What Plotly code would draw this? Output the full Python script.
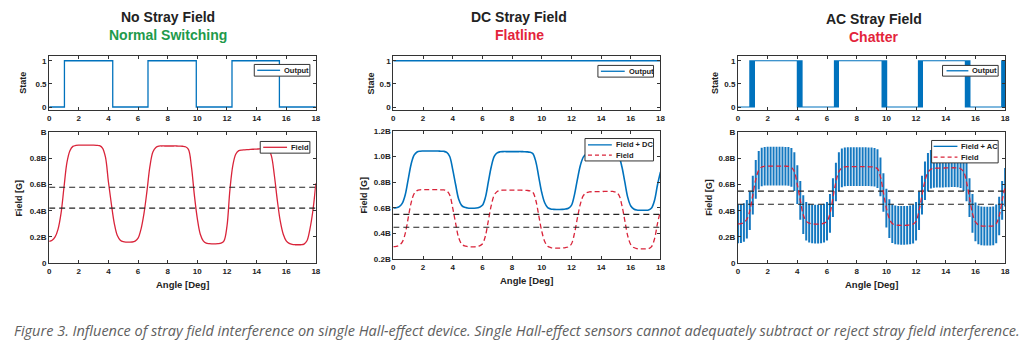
import numpy as np
import plotly.graph_objects as go

# ---------------- data ----------------
angle = np.round(np.arange(0, 91) * 0.2, 1)  # 0 .. 18 deg, 0.2 deg step

# Panel 1: "No Stray Field" field curve
field_nostray = [
    0.165, 0.175, 0.200, 0.260, 0.380, 0.580, 0.770, 0.860, 0.893, 0.900,
    0.902, 0.902, 0.902, 0.902, 0.902, 0.902, 0.901, 0.898, 0.880, 0.810,
    0.620, 0.450, 0.300, 0.210, 0.175, 0.163, 0.160, 0.160, 0.161, 0.168,
    0.190, 0.260, 0.380, 0.550, 0.740, 0.850, 0.885, 0.895, 0.896, 0.896,
    0.896, 0.896, 0.896, 0.896, 0.895, 0.894, 0.890, 0.870, 0.740, 0.520,
    0.340, 0.220, 0.170, 0.152, 0.148, 0.147, 0.147, 0.148, 0.152, 0.170,
    0.280, 0.560, 0.750, 0.835, 0.860, 0.865, 0.866, 0.868, 0.870, 0.871,
    0.872, 0.874, 0.875, 0.876, 0.870, 0.820, 0.670, 0.480, 0.320, 0.220,
    0.170, 0.150, 0.142, 0.140, 0.140, 0.140, 0.145, 0.170, 0.260, 0.400,
    0.610,
]

# Panels 2 and 3: underlying "Field" curve
field_base = [
    0.300, 0.302, 0.310, 0.335, 0.400, 0.520, 0.640, 0.710, 0.735, 0.741,
    0.742, 0.742, 0.742, 0.742, 0.742, 0.742, 0.741, 0.740, 0.732, 0.700,
    0.600, 0.480, 0.370, 0.320, 0.305, 0.300, 0.298, 0.298, 0.299, 0.305,
    0.320, 0.380, 0.500, 0.620, 0.700, 0.728, 0.736, 0.738, 0.738, 0.738,
    0.738, 0.738, 0.738, 0.738, 0.737, 0.736, 0.733, 0.722, 0.660, 0.540,
    0.420, 0.340, 0.302, 0.292, 0.289, 0.288, 0.288, 0.289, 0.292, 0.298,
    0.320, 0.400, 0.520, 0.630, 0.695, 0.718, 0.724, 0.726, 0.727, 0.727,
    0.728, 0.728, 0.729, 0.729, 0.728, 0.722, 0.700, 0.620, 0.500, 0.380,
    0.315, 0.292, 0.284, 0.282, 0.282, 0.282, 0.284, 0.300, 0.360, 0.480,
    0.580,
]

dc_offset = 0.30        # Field + DC = Field + 0.30B
ac_amplitude = 0.148    # peak of the AC ripple

thresholds_p1 = [0.42, 0.58]
thresholds_p23 = [0.45, 0.55]

state_p1_x = [0, 1.03, 4.29, 6.67, 9.93, 12.34, 15.54, 18]
state_p1_y = [0, 1, 0, 1, 0, 1, 0, 0]
state_p2_x = [0, 18]
state_p2_y = [1, 1]
chatter_blocks = [(0.80, 1.11), (4.00, 4.32), (6.50, 6.77), (9.71, 10.02),
                  (12.16, 12.43), (15.32, 15.63), (17.77, 18.0)]
chatter_toggles = 7

x_ticks = list(range(0, 19, 2))
state_ticks = [0, 0.5, 1]
state_ticktext = ["0", "0.5", "1"]
field_ticks_p13 = [0, 0.2, 0.4, 0.6, 0.8, 1.0]
field_ticktext_p13 = ["0", "0.2B", "0.4B", "0.6B", "0.8B", "B"]
field_ticks_p2 = [0.2, 0.4, 0.6, 0.8, 1.0, 1.2]
field_ticktext_p2 = ["0.2B", "0.4B", "0.6B", "0.8B", "1.0B", "1.2B"]

# ---------------- derived series ----------------
field_dc = [f + dc_offset for f in field_base]

# AC ripple: one peak-to-peak swing around the field at every sample
ac_x, ac_y = [], []
for a, f in zip(angle, field_base):
    ac_x += [a, a, None]
    ac_y += [f - ac_amplitude, f + ac_amplitude, None]

state_p3_x, state_p3_y = [0.0], [0]
s = 0
for (b0, b1) in chatter_blocks:
    for k in range(chatter_toggles):
        s = 1 - s
        state_p3_x.append(b0 + (b1 - b0) * k / (chatter_toggles - 1))
        state_p3_y.append(s)
state_p3_x.append(18.0)
state_p3_y.append(s)

# ---------------- styling ----------------
FONT = "Liberation Sans, Arial, sans-serif"
BLUE = "#0072BD"
RED = "#D9243A"
W, H = 1027, 358


def px_x(p):
    return p / W


def px_y(p):
    return 1 - p / H


def axis(dom, rng, anchor, tv, tt=None):
    d = dict(domain=dom, range=rng, anchor=anchor, showline=True,
             linecolor="#333", linewidth=1, mirror="ticks", ticks="inside",
             ticklen=3, tickwidth=1, tickcolor="#333", showgrid=False,
             zeroline=False, fixedrange=True, tickvals=tv,
             tickfont=dict(family=FONT, size=8, color="#222", weight="bold"))
    if tt is not None:
        d["ticktext"] = tt
    return d


panels = [
    dict(x=(47.5, 316), top=(53, 109), bot=(131.7, 265.7)),
    dict(x=(394, 663), top=(53, 109), bot=(130, 262)),
    dict(x=(741, 1010), top=(53, 109), bot=(131.7, 265.7)),
]

fig = go.Figure()
layout = dict(width=W, height=H, margin=dict(l=0, r=0, t=0, b=0),
              paper_bgcolor="white", plot_bgcolor="white", showlegend=False)

for i, p in enumerate(panels):
    xt = 2 * i + 1
    xb = 2 * i + 2
    xd = [px_x(p["x"][0]), px_x(p["x"][1])]
    layout[f"xaxis{xt}"] = axis(xd, [0, 18], f"y{xt}", x_ticks)
    layout[f"yaxis{xt}"] = axis([px_y(p["top"][1]), px_y(p["top"][0])],
                                [-0.07, 1.11], f"x{xt}", state_ticks, state_ticktext)
    layout[f"xaxis{xb}"] = axis(xd, [0, 18], f"y{xb}", x_ticks)
    if i == 1:
        yr, tv, tt = [0.2, 1.2], field_ticks_p2, field_ticktext_p2
    else:
        yr, tv, tt = [0, 1], field_ticks_p13, field_ticktext_p13
    layout[f"yaxis{xb}"] = axis([px_y(p["bot"][1]), px_y(p["bot"][0])],
                                yr, f"x{xb}", tv, tt)

layout["xaxis"] = layout.pop("xaxis1")
layout["yaxis"] = layout.pop("yaxis1")

DASH_TH = "6px,4px"
DASH_RED = "5px,3px"

# ---- panel 1 ----
fig.add_trace(go.Scatter(x=state_p1_x, y=state_p1_y, mode="lines", line_shape="hv",
                         line=dict(color=BLUE, width=1.3), name="Output",
                         xaxis="x", yaxis="y"))
fig.add_trace(go.Scatter(x=angle, y=field_nostray, mode="lines", line_shape="spline",
                         line=dict(color=RED, width=1.3), name="Field",
                         xaxis="x2", yaxis="y2"))
for t in thresholds_p1:
    fig.add_trace(go.Scatter(x=[0, 18], y=[t, t], mode="lines",
                             line=dict(color="#222", width=1.1, dash=DASH_TH),
                             xaxis="x2", yaxis="y2", hoverinfo="skip"))

# ---- panel 2 ----
fig.add_trace(go.Scatter(x=state_p2_x, y=state_p2_y, mode="lines",
                         line=dict(color=BLUE, width=1.3), name="Output",
                         xaxis="x3", yaxis="y3"))
fig.add_trace(go.Scatter(x=angle, y=field_dc, mode="lines", line_shape="spline",
                         line=dict(color=BLUE, width=1.6), name="Field + DC",
                         xaxis="x4", yaxis="y4"))
fig.add_trace(go.Scatter(x=angle, y=field_base, mode="lines", line_shape="spline",
                         line=dict(color=RED, width=1.3, dash=DASH_RED), name="Field",
                         xaxis="x4", yaxis="y4"))
for t in thresholds_p23:
    fig.add_trace(go.Scatter(x=[0, 18], y=[t, t], mode="lines",
                             line=dict(color="#222", width=1.1, dash=DASH_TH),
                             xaxis="x4", yaxis="y4", hoverinfo="skip"))

# ---- panel 3 ----
fig.add_trace(go.Scatter(x=state_p3_x, y=state_p3_y, mode="lines", line_shape="hv",
                         line=dict(color=BLUE, width=1.1), name="Output",
                         xaxis="x5", yaxis="y5"))
fig.add_trace(go.Scatter(x=ac_x, y=ac_y, mode="lines", connectgaps=False,
                         line=dict(color="#1478C0", width=2.0), name="Field + AC",
                         xaxis="x6", yaxis="y6"))
for t in thresholds_p23:
    fig.add_trace(go.Scatter(x=[0, 18], y=[t, t], mode="lines",
                             line=dict(color="#222", width=1.1, dash=DASH_TH),
                             xaxis="x6", yaxis="y6", hoverinfo="skip"))
fig.add_trace(go.Scatter(x=angle, y=field_base, mode="lines", line_shape="spline",
                         line=dict(color=RED, width=1.3, dash=DASH_RED), name="Field",
                         xaxis="x6", yaxis="y6"))

# ---------------- text ----------------
annotations = []
shapes = []


def ann(text, x, y, size, color="#222", angle=0, bold=True, italic=False,
        xanchor="center", family=FONT):
    return dict(text=text, x=px_x(x), y=px_y(y), xref="paper", yref="paper",
                showarrow=False, xanchor=xanchor, yanchor="middle", textangle=angle,
                font=dict(family=family, size=size, color=color,
                          weight="bold" if bold else "normal",
                          style="italic" if italic else "normal"))


titles = [("No Stray Field", "Normal Switching", "#1E9A4B", 167, 13.5, 31.5),
          ("DC Stray Field", "Flatline", "#E3243B", 521, 13.5, 31.5),
          ("AC Stray Field", "Chatter", "#E3243B", 878, 15.5, 34)]
for t1, t2, c2, cx, y1, y2 in titles:
    annotations.append(ann(t1, cx, y1, 14))
    annotations.append(ann(t2, cx, y2, 14, color=c2))

ylab_x = [(21, 17), (371, 365), (718, 712)]
for p, (sx, fx) in zip(panels, ylab_x):
    annotations.append(ann("State", sx, (p["top"][0] + p["top"][1]) / 2, 9, angle=-90))
    annotations.append(ann("Field [G]", fx, (p["bot"][0] + p["bot"][1]) / 2, 9, angle=-90))
    annotations.append(ann("Angle [Deg]", (p["x"][0] + p["x"][1]) / 2,
                           p["bot"][1] + 22, 9.5))

annotations.append(ann(
    "Figure 3. Influence of stray field interference on single Hall-effect device. "
    "Single Hall-effect sensors cannot adequately subtract or reject stray field interference.",
    10, 334.5, 14.5, color="#606060", bold=False, italic=True, xanchor="left",
    family="Open Sans, sans-serif"))


# ---- legends (box + sample line + label) ----
def legend_box(x0, x1, y0, y1, lx0, lx1, tx, entries):
    shapes.append(dict(type="rect", xref="paper", yref="paper",
                       x0=px_x(x0), x1=px_x(x1), y0=px_y(y1), y1=px_y(y0),
                       line=dict(color="#333", width=1), fillcolor="white",
                       layer="above"))
    for label, color, dash, ly in entries:
        shapes.append(dict(type="line", xref="paper", yref="paper",
                           x0=px_x(lx0), x1=px_x(lx1), y0=px_y(ly), y1=px_y(ly),
                           line=dict(color=color, width=1.3, dash=dash),
                           layer="above"))
        annotations.append(ann(label, tx, ly, 7.5, xanchor="left"))


legend_box(254, 310, 62, 74, 257, 280, 282, [("Output", BLUE, "solid", 68)])
legend_box(260, 310, 141, 153, 263, 287, 289, [("Field", RED, "solid", 147)])
legend_box(600, 656, 63, 75, 603, 627, 629, [("Output", BLUE, "solid", 69)])
legend_box(587, 656, 138, 161, 590, 614, 616,
           [("Field + DC", BLUE, "solid", 144.5), ("Field", RED, "4px,3px", 155)])
legend_box(947, 1003, 63, 74, 951, 973, 975, [("Output", BLUE, "solid", 68.5)])
legend_box(936, 1003, 140, 163, 938, 962, 964,
           [("Field + AC", BLUE, "solid", 146), ("Field", RED, "4px,3px", 157)])

layout["annotations"] = annotations
layout["shapes"] = shapes
fig.update_layout(**layout)
fig.write_html("out.html", config={"displayModeBar": False},
               post_script="document.body.style.margin='0';document.body.style.padding='0';")
